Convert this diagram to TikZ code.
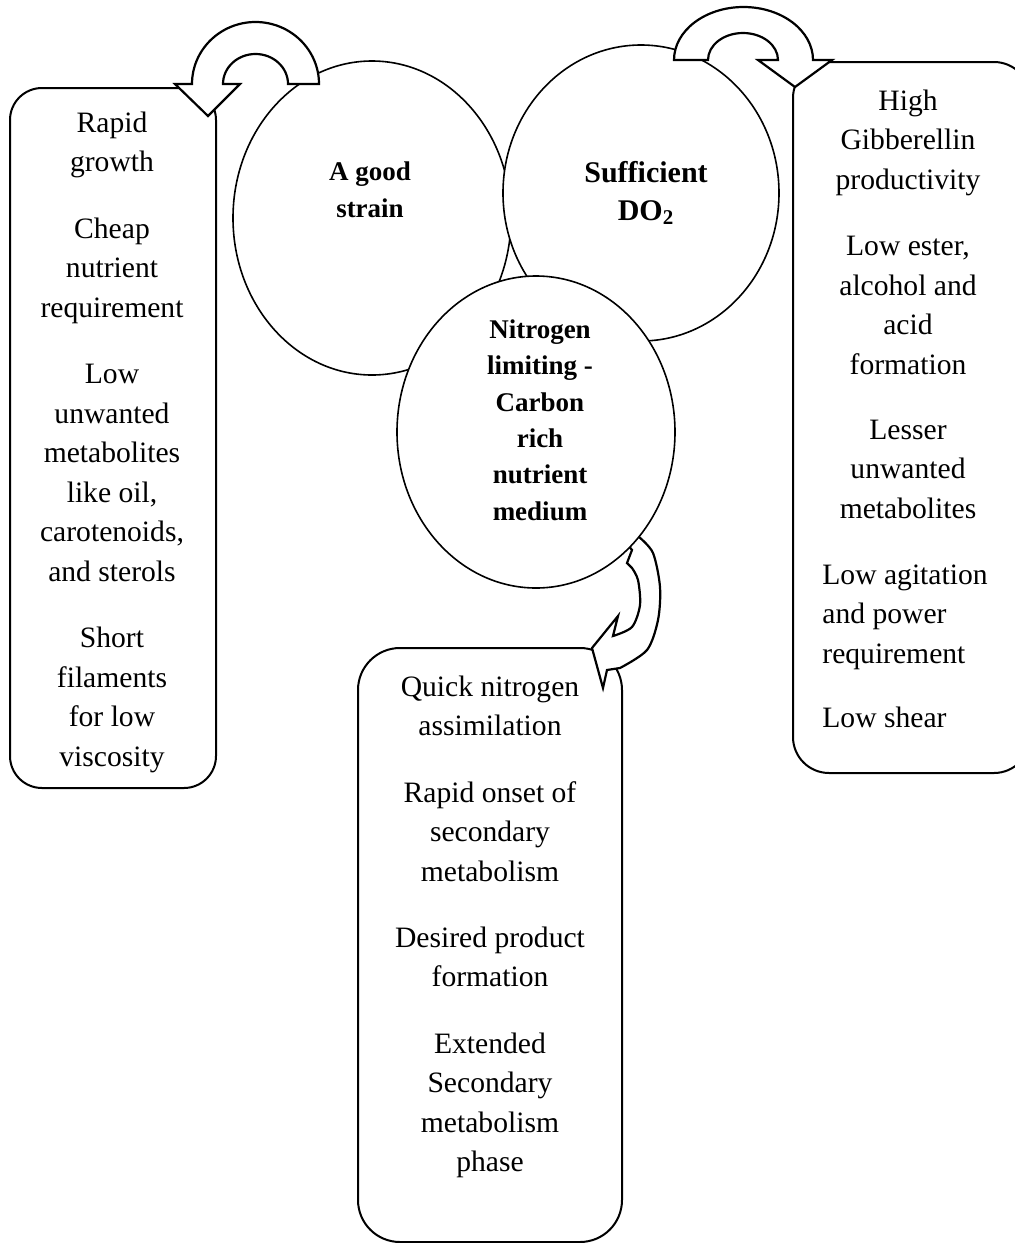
\documentclass[tikz,border=0pt]{standalone}
\usepackage{fontspec}
\setmainfont{Liberation Serif}
\usetikzlibrary{shapes.geometric}
\begin{document}
\begin{tikzpicture}[x=0.5pt,y=-0.5pt,
  ell/.style={draw, line width=0.8pt, fill=white, shape=ellipse, inner sep=0pt},
  rbox/.style={draw, line width=1pt},
  uarrow/.style={draw, line width=1.1pt, fill=white, line join=miter},
  txt/.style={font=\fontsize{14.8}{19.75}\selectfont, anchor=base, inner sep=0pt, align=center},
  ltxt/.style={font=\fontsize{14.8}{19.75}\selectfont, anchor=base west, inner sep=0pt, align=left},
  btxt/.style={font=\fontsize{13.5}{18.15}\selectfont\bfseries, anchor=base, inner sep=0pt, align=center},
  bbtxt/.style={font=\fontsize{15}{19}\selectfont\bfseries, anchor=base, inner sep=0pt, align=center}]
\useasboundingbox (0,0) rectangle (1015,1243);
\clip (0,0) rectangle (1015,1243);
% boxes
\draw[rbox, rounded corners=16pt] (10,88) rectangle (216,788);
\draw[rbox, rounded corners=18pt] (793,62) rectangle (1030,773);
\draw[rbox, rounded corners=21pt] (358,648) rectangle (622,1242);
% circles
\node[ell, minimum width=139pt, minimum height=157pt] (good) at (372,218) {};
\node[ell, minimum width=138pt, minimum height=148pt] (do) at (641,193) {};
% bottom curved arrow
\path[uarrow] (634,530) -- (639,537)
  -- plot[smooth] coordinates {(639,537) (653,553) (660,587) (658,620) (647,650) (620,668)}
  -- (607,670) -- (603,688) -- (592,648) -- (618,616) -- (613,636)
  -- plot[smooth] coordinates {(613,636) (632,627) (640,605) (638,580) (632,568)}
  -- (627,563) -- (632,550) -- (628,545) -- cycle;
\node[ell, minimum width=139pt, minimum height=156pt] (nit) at (536,432) {};
% top-left curved arrow
\path[uarrow] (319,84) arc[start angle=0,end angle=180,x radius=31.75pt,y radius=31pt]
  -- (175,84) -- (208,116) -- (240,84) -- (223,84)
  arc[start angle=180,end angle=0,x radius=16.25pt,y radius=15pt] -- cycle;
% top-right curved arrow
\path[uarrow] (674,60) arc[start angle=180,end angle=0,x radius=34.75pt,y radius=26.5pt]
  -- (832,60) -- (795,87) -- (758,60) -- (778,60)
  arc[start angle=0,end angle=180,x radius=17.5pt,y radius=13.5pt] -- cycle;
% circle texts (anchor = baseline of last line)
\node[btxt] (tgood) at (370,217) {A good\\strain};
\node[bbtxt] (tdo) at (646,220) {Sufficient\\DO\textsubscript{2}};
\node[btxt] (tnit) at (540,520) {Nitrogen\\limiting -\\Carbon\\rich\\nutrient\\medium};
% left box text
\node[txt] (l1) at (112,171.5) {Rapid\\growth};
\node[txt] (l2) at (112,317) {Cheap\\nutrient\\requirement};
\node[txt] (l3) at (112,581) {Low\\unwanted\\metabolites\\like oil,\\carotenoids,\\and sterols};
\node[txt] (l4) at (112,766) {Short\\filaments\\for low\\viscosity};
% right box text
\node[txt] (r1) at (908,189) {High\\Gibberellin\\productivity};
\node[txt] (r2) at (908,374) {Low ester,\\alcohol and\\acid\\formation};
\node[txt] (r3) at (908,518) {Lesser\\unwanted\\metabolites};
\node[ltxt] (r4) at (822,663) {Low agitation\\and power\\requirement};
\node[ltxt] (r5) at (822,727) {Low shear};
% bottom box text
\node[txt] (b1) at (490,735.5) {Quick nitrogen\\assimilation};
\node[txt] (b2) at (490,881) {Rapid onset of\\secondary\\metabolism};
\node[txt] (b3) at (490,986.5) {Desired product\\formation};
\node[txt] (b4) at (490,1171.5) {Extended\\Secondary\\metabolism\\phase};
\end{tikzpicture}
\end{document}
